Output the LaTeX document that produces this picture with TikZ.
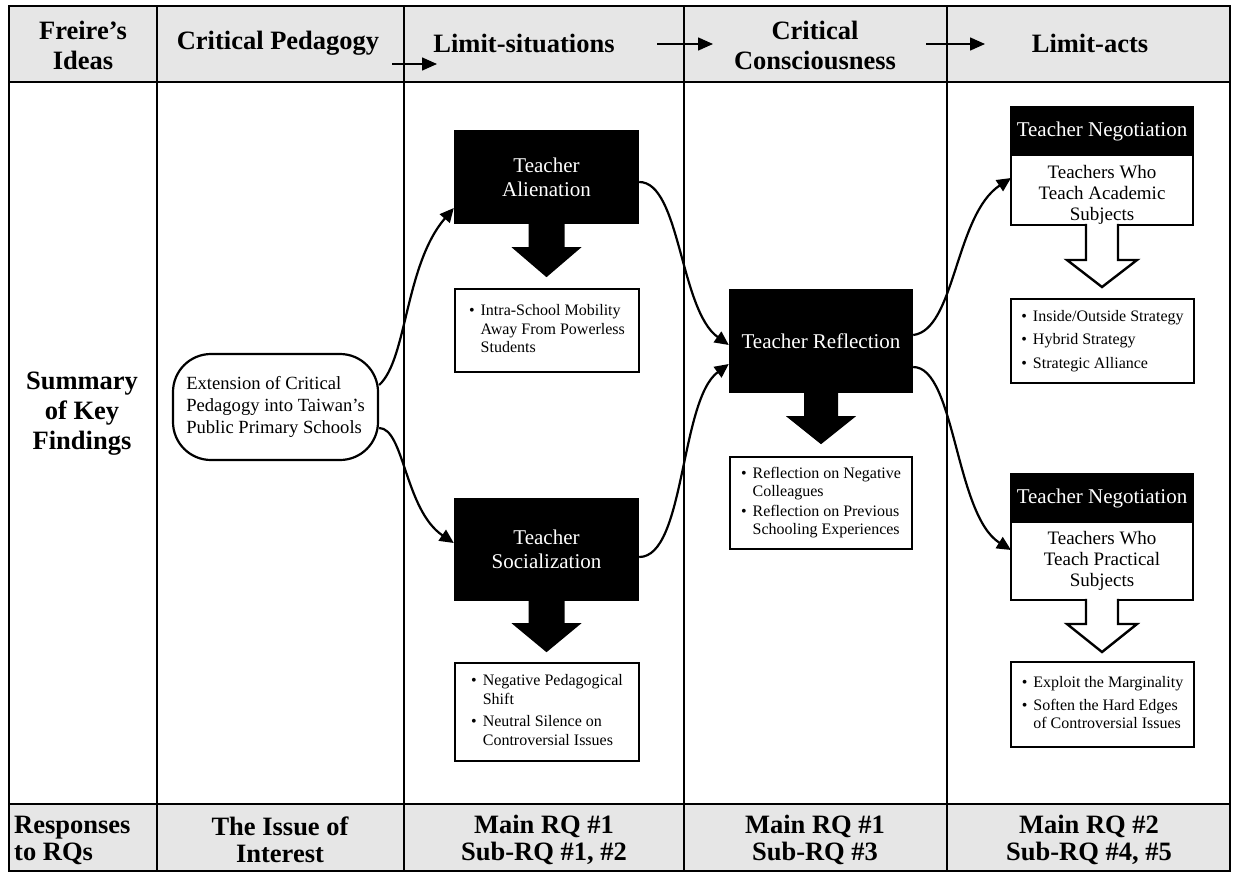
\documentclass[tikz,border=0pt]{standalone}
\usepackage{fontspec}
\setmainfont{Liberation Serif}
\usetikzlibrary{arrows.meta}
\definecolor{hdrgray}{RGB}{230,230,230}

\begin{document}
\begin{tikzpicture}[x=1pt,y=-1pt,
  grid/.style={line width=2.4pt},
  hdr/.style={font=\fontsize{26.5}{30}\selectfont\bfseries, align=center, inner sep=0pt},
  ftr/.style={font=\fontsize{26.5}{27}\selectfont\bfseries, align=center, inner sep=0pt},
  blackbox/.style={fill=black, text=white, font=\fontsize{21}{24}\selectfont, align=center, inner sep=0pt},
  listbox/.style={draw, line width=2.4pt, fill=white, font=\fontsize{16}{18.5}\selectfont, inner sep=0pt},
  negtitle/.style={draw, line width=2.4pt, fill=black, text=white, font=\fontsize{21}{24}\selectfont,
    minimum width=182pt, minimum height=48pt, inner sep=0pt, outer sep=0pt},
  negbody/.style={draw, line width=2.4pt, fill=white, font=\fontsize{19}{21}\selectfont, align=center,
    minimum width=182pt, inner sep=0pt, outer sep=0pt, anchor=north},
  conn/.style={line width=2.2pt, -{Triangle[length=14pt, width=13pt]}},
  hdrarrow/.style={line width=1.5pt, -{Triangle[length=15pt, width=13pt]}},
  hollow/.style={draw, line width=2.4pt, fill=white},
]
\useasboundingbox (0,0) rectangle (1238,875);

% table background and rules
\fill[hdrgray] (9,6) rectangle (1230,82);
\fill[hdrgray] (9,804) rectangle (1230,871);
\draw[grid] (9,6) rectangle (1230,871);
\draw[grid] (9,82) -- (1230,82);
\draw[grid] (9,804) -- (1230,804);
\foreach \cx in {157,404,684,947} \draw[grid] (\cx,6) -- (\cx,871);

% header row
\node[hdr] (h0) at (83,45) {Freire’s\\Ideas};
\node[hdr] (h1) at (278,43) {Critical Pedagogy};
\node[hdr] (h2) at (524,43) {Limit-situations};
\node[hdr] (h3) at (815,45) {Critical\\Consciousness};
\node[hdr] (h4) at (1090,43) {Limit-acts};

\coordinate (a1s) at (392,64); \coordinate (a1e) at (437,64);
\coordinate (a2s) at (657,44); \coordinate (a2e) at (713,44);
\coordinate (a3s) at (926,44); \coordinate (a3e) at (985,44);
\draw[hdrarrow] (a1s) -- (a1e);
\draw[hdrarrow] (a2s) -- (a2e);
\draw[hdrarrow] (a3s) -- (a3e);

% footer row
\node[ftr, align=left, anchor=west] (f0) at (14,840) {Responses\\to RQs};
\node[ftr] (f1) at (280,840) {The Issue of\\Interest};
\node[ftr] (f2) at (544,840) {Main RQ \#1\\Sub-RQ \#1, \#2};
\node[ftr] (f3) at (815,840) {Main RQ \#1\\Sub-RQ \#3};
\node[ftr] (f4) at (1089,840) {Main RQ \#2\\Sub-RQ \#4, \#5};

% row label
\node[hdr] (sum) at (82,414) {Summary\\of Key\\Findings};

% critical pedagogy column
\node[draw, line width=2.2pt, rounded corners=38pt, minimum width=205pt, minimum height=106pt,
  font=\fontsize{18.6}{22}\selectfont, align=left, inner sep=0pt] (ext) at (275.5,407)
  {Extension of Critical\\Pedagogy into Taiwan’s\\Public Primary Schools};

% limit-situations column
\node[blackbox, minimum width=185pt, minimum height=94pt] (alien) at (546.5,177) {Teacher\\Alienation};
\node[blackbox, minimum width=185pt, minimum height=103pt] (social) at (546.5,549.5) {Teacher\\Socialization};
\node[listbox, minimum width=184pt, minimum height=83pt] (alienL) at (547,330.5)
  {\begin{tabular}{@{}l@{\hspace{6pt}}l@{}}\textbullet & Intra-School Mobility\\ & Away From Powerless\\ & Students\end{tabular}};
\node[listbox, minimum width=184pt, minimum height=98pt] (socialL) at (547,712)
  {\begin{tabular}{@{}l@{\hspace{6pt}}l@{}}\textbullet & Negative Pedagogical\\ & Shift\\[4pt] \textbullet & Neutral Silence on\\ & Controversial Issues\end{tabular}};

\fill (alien.south) ++(-18,0) -- ++(0,23) -- ++(-17,0) -- ++(35,30) -- ++(35,-30) -- ++(-17,0) -- ++(0,-23) -- cycle;
\fill (social.south) ++(-18,0) -- ++(0,22) -- ++(-17,0) -- ++(35,29) -- ++(35,-29) -- ++(-17,0) -- ++(0,-22) -- cycle;

% critical consciousness column
\node[blackbox, minimum width=184pt, minimum height=104pt] (reflect) at (821,341) {Teacher Reflection};
\node[listbox, minimum width=182pt, minimum height=92pt] (reflectL) at (821,503)
  {\begin{tabular}{@{}l@{\hspace{6pt}}l@{}}\textbullet & Reflection on Negative\\ & Colleagues\\[1pt] \textbullet & Reflection on Previous\\ & Schooling Experiences\end{tabular}};
\fill (reflect.south) ++(-17,0) -- ++(0,23) -- ++(-18,0) -- ++(35,28) -- ++(35,-28) -- ++(-18,0) -- ++(0,-23) -- cycle;

% limit-acts column
\node[negtitle] (neg1t) at (1102,131) {Teacher Negotiation};
\node[negbody, minimum height=70pt] (neg1s) at (neg1t.south)
  {\raisebox{-5pt}[\height][\depth]{\begin{tabular}{@{}c@{}}Teachers Who\\Teach Academic\\Subjects\end{tabular}}};
\node[listbox, minimum width=183pt, minimum height=84pt] (neg1L) at (1102.5,341)
  {\begin{tabular}{@{}l@{\hspace{6pt}}l@{}}\textbullet & Inside/Outside Strategy\\[5pt] \textbullet & Hybrid Strategy\\[5pt] \textbullet & Strategic Alliance\end{tabular}};

\node[negtitle] (neg2t) at (1102,498) {Teacher Negotiation};
\node[negbody, minimum height=78pt] (neg2s) at (neg2t.south) {Teachers Who\\Teach Practical\\Subjects};
\node[listbox, minimum width=183pt, minimum height=85pt] (neg2L) at (1102.5,704.5)
  {\begin{tabular}{@{}l@{\hspace{6pt}}l@{}}\textbullet & Exploit the Marginality\\[4pt] \textbullet & Soften the Hard Edges\\ & of Controversial Issues\end{tabular}};

\path[hollow] (neg1s.south) ++(-16,-1.2) -- ++(0,36.2) -- ++(-19,0) -- ++(35,27) -- ++(35,-27) -- ++(-19,0) -- ++(0,-36.2);
\path[hollow] (neg2s.south) ++(-16,-1.2) -- ++(0,25.2) -- ++(-19,0) -- ++(35,28) -- ++(35,-28) -- ++(-19,0) -- ++(0,-25.2);

% connectors
\draw[conn] ([yshift=22pt]ext.east) .. controls +(28,-25) and +(-49,57) .. ([yshift=-31pt]alien.west);
\draw[conn] ([yshift=-21pt]ext.east) .. controls +(25,0) and +(-49,-33) .. ([yshift=6.5pt]social.west);
\draw[conn] ([yshift=-5pt]alien.east) .. controls +(41,0) and +(-49,-35) .. ([yshift=-4pt]reflect.west);
\draw[conn] ([yshift=-7.5pt]social.east) .. controls +(46,0) and +(-49,36) .. ([yshift=-23pt]reflect.west);
\draw[conn] ([yshift=6pt]reflect.east) .. controls +(42,-5) and +(-56,37) .. ([yshift=12pt]neg1s.west);
\draw[conn] ([yshift=-26pt]reflect.east) .. controls +(42,0) and +(-56,-35) .. ([yshift=11pt]neg2s.west);
\end{tikzpicture}
\end{document}
